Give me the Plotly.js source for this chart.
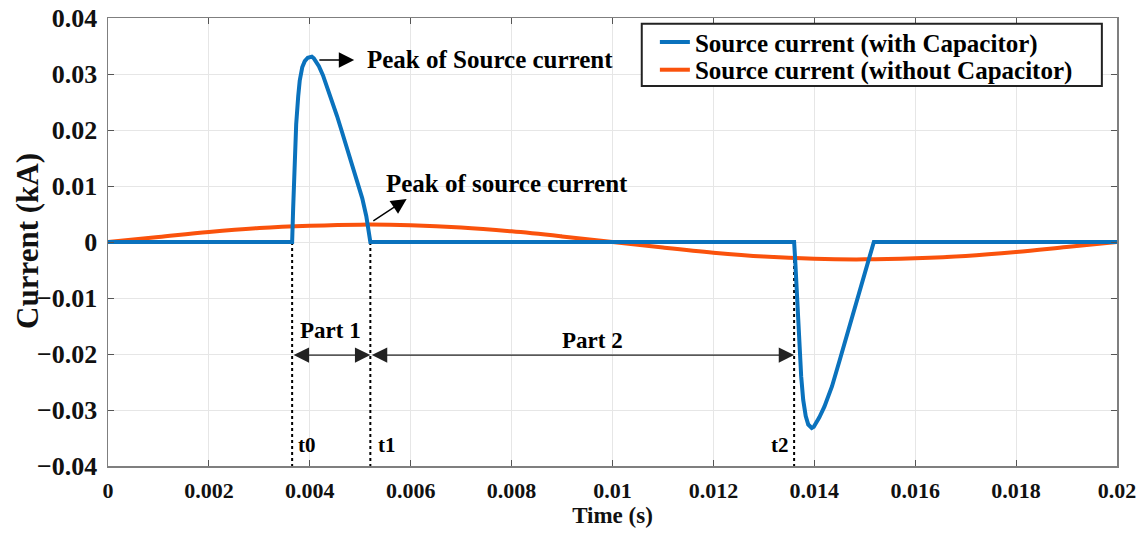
<!DOCTYPE html>
<html><head><meta charset="utf-8">
<script src="https://cdn.plot.ly/plotly-3.0.1.min.js"></script>
<style>html,body{margin:0;padding:0;background:#fff}#chart{width:1145px;height:534px}</style>
</head><body><div id="chart"></div>
<script>
// Source current with capacitor (kA)
const tWith = [0, 0.0036, 0.00365, 0.00367, 0.0037, 0.00373, 0.00377, 0.0038, 0.00385, 0.0039, 0.00396, 0.004, 0.00404, 0.00408, 0.00413, 0.00418, 0.00426, 0.00434, 0.00444, 0.00454, 0.00464, 0.00474, 0.00484, 0.00494, 0.00504, 0.00512, 0.0052, 0.0084, 0.0136, 0.01362, 0.01364, 0.01367, 0.0137, 0.01374, 0.01378, 0.01383, 0.01388, 0.01392, 0.01395, 0.01399, 0.01404, 0.0141, 0.0142, 0.01435, 0.0145, 0.01465, 0.0148, 0.01495, 0.01505, 0.01512, 0.01518, 0.02];
const iWith = [0, 0, 0, 0.006, 0.015, 0.021, 0.026, 0.0288, 0.0312, 0.0323, 0.0329, 0.0331, 0.0331, 0.0328, 0.0322, 0.0314, 0.0298, 0.0278, 0.0253, 0.0225, 0.0196, 0.0167, 0.0139, 0.011, 0.0078, 0.0046, 0, 0, 0, -0.003, -0.007, -0.013, -0.0185, -0.024, -0.0282, -0.0311, -0.0326, -0.0331, -0.0332, -0.033, -0.0323, -0.0313, -0.0294, -0.0258, -0.0212, -0.0164, -0.0118, -0.0072, -0.0042, -0.0018, 0, 0];
// Source current without capacitor (kA)
const tWithout = [0, 0.001, 0.002, 0.003, 0.004, 0.005, 0.006, 0.007, 0.008, 0.009, 0.01, 0.011, 0.012, 0.013, 0.014, 0.015, 0.016, 0.017, 0.018, 0.019, 0.02];
const iWithout = [0, 0.0009, 0.0018, 0.0025, 0.0029, 0.0031, 0.003, 0.0026, 0.0019, 0.001, 0, -0.001, -0.0019, -0.0026, -0.003, -0.0031, -0.0029, -0.0025, -0.0018, -0.0009, 0];
// Marked instants
const markNames = ['t0', 't1', 't2'];
const markTimes = [0.00365, 0.0052, 0.0136];
const seriesNames = ['Source current (with Capacitor)', 'Source current (without Capacitor)'];
const xTicks = [0, 0.002, 0.004, 0.006, 0.008, 0.01, 0.012, 0.014, 0.016, 0.018, 0.02];
const yTicks = [-0.04, -0.03, -0.02, -0.01, 0, 0.01, 0.02, 0.03, 0.04];

const serif = 'Liberation Serif, Times New Roman, serif';
const traces = [];
markTimes.forEach(t => {
  traces.push({x: [t, t], y: [0, -0.04], mode: 'lines', showlegend: false, hoverinfo: 'skip',
    line: {color: '#000', width: 2, dash: 'dot'}});
});
traces.push({x: tWithout, y: iWithout, mode: 'lines', name: '<b>' + seriesNames[1] + '</b>', legend: 'legend2', line: {color: '#FA520C', width: 4, shape: 'spline'}});
traces.push({x: tWith, y: iWith, mode: 'lines', name: '<b>' + seriesNames[0] + '</b>', legend: 'legend', line: {color: '#0A72BD', width: 4}});

const ann = [];
const arrowStyle = {showarrow: true, arrowhead: 2, arrowsize: 2.2, arrowwidth: 1.4, arrowcolor: '#000', text: '', xref: 'x', yref: 'y', axref: 'x', ayref: 'y'};
ann.push(Object.assign({}, arrowStyle, {x: 0.00488, y: 0.0325, ax: 0.00416, ay: 0.0325}));
ann.push(Object.assign({}, arrowStyle, {x: 0.00592, y: 0.0077, ax: 0.00523, ay: 0.0036}));
ann.push(Object.assign({}, arrowStyle, {x: markTimes[1], y: -0.0202, ax: markTimes[0], ay: -0.0202, arrowside: 'end+start', arrowcolor: '#222'}));
ann.push(Object.assign({}, arrowStyle, {x: markTimes[2], y: -0.0202, ax: markTimes[1], ay: -0.0202, arrowside: 'end+start', arrowcolor: '#222'}));
const txt = (text, x, y, xanchor, size) => ({text: '<b>' + text + '</b>', x, y, xref: 'x', yref: 'y', xanchor, yanchor: 'middle', showarrow: false, font: {family: serif, size: size || 18, color: '#000'}});
ann.push(txt('Peak of Source current', 0.0051, 0.0326, 'left', 25));
ann.push(txt('Peak of source current', 0.00548, 0.0104, 'left', 25));
ann.push(txt('Part 1', 0.00442, -0.0158, 'center', 23));
ann.push(txt('Part 2', 0.0096, -0.0176, 'center', 23));
ann.push(txt(markNames[0], 0.00372, -0.0362, 'left', 21));
ann.push(txt(markNames[1], 0.00531, -0.0362, 'left', 21));
ann.push(txt(markNames[2], 0.01353, -0.0362, 'right', 21));
// y-axis title placed as in the reference
ann.push({text: '<b>Current (kA)</b>', xref: 'paper', yref: 'paper', x: -0.0805, y: 0.502, xanchor: 'center', yanchor: 'middle',
  textangle: -90, showarrow: false, font: {family: serif, size: 31, color: '#111'}});

const axisCommon = {showline: true, linecolor: '#7f7f7f', linewidth: 1.5, mirror: 'allticks', ticks: 'inside', ticklen: 6, tickcolor: '#555',
  showgrid: true, gridcolor: '#e6e6e6', gridwidth: 1, zeroline: false};

const legendCommon = {xanchor: 'left', yanchor: 'middle', bgcolor: 'rgba(0,0,0,0)', borderwidth: 0,
  font: {family: serif, size: 25, color: '#000'}, itemwidth: 30};

const layout = {
  width: 1145, height: 534, paper_bgcolor: '#fff', plot_bgcolor: '#fff',
  margin: {l: 108, r: 28, t: 18, b: 68},
  font: {family: serif},
  xaxis: Object.assign({}, axisCommon, {range: [0, 0.02], tickvals: xTicks, ticktext: xTicks.map(v => '<b>' + v + '</b>'),
    tickfont: {family: serif, size: 22, color: '#111'}, ticklabelstandoff: 4,
    title: {text: '<b>Time (s)</b>', font: {family: serif, size: 23, color: '#111'}, standoff: 2}}),
  yaxis: Object.assign({}, axisCommon, {range: [-0.04, 0.04], tickvals: yTicks, ticktext: yTicks.map(v => '<b>' + (v < 0 ? '\u2212' + Math.abs(v) : v) + '</b>'),
    tickfont: {family: serif, size: 26, color: '#111'}, ticklabelstandoff: 4}),
  showlegend: true,
  shapes: [{type: 'rect', xref: 'paper', yref: 'paper', x0: 0.529, x1: 0.985, y0: 0.848, y1: 0.987, layer: 'above',
    fillcolor: '#fff', line: {color: '#222', width: 2}}],
  legend: Object.assign({}, legendCommon, {x: 0.542, y: 0.946}),
  legend2: Object.assign({}, legendCommon, {x: 0.542, y: 0.884}),
  annotations: ann
};
Plotly.newPlot('chart', traces, layout, {displayModeBar: false, staticPlot: true});
</script></body></html>
